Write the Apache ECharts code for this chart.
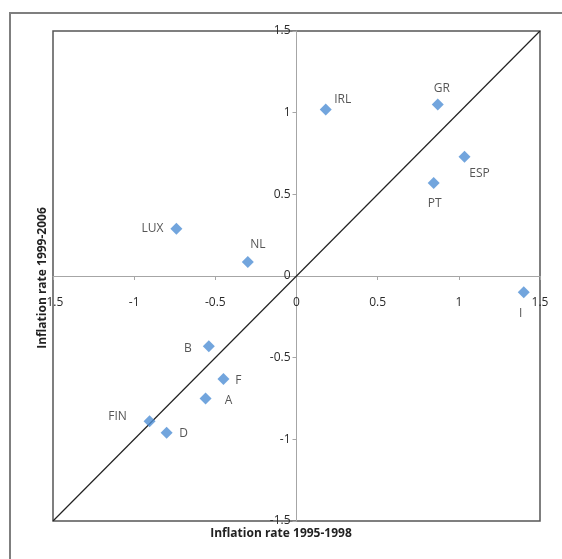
<!DOCTYPE html>
<html><head><meta charset="utf-8">
<script src="https://cdn.jsdelivr.net/npm/echarts@6/dist/echarts.min.js"></script>
<style>html,body{margin:0;padding:0;background:#fff}#c{width:562px;height:559px}</style>
</head><body><div id="c"></div>
<script>
var countries = ['IRL','GR','ESP','PT','LUX','NL','I','B','F','A','FIN','D'];
var infl9598 = [0.18, 0.87, 1.035, 0.845, -0.74, -0.30, 1.40, -0.54, -0.45, -0.56, -0.905, -0.80];
var infl9906 = [1.02, 1.05, 0.73, 0.57, 0.29, 0.086, -0.10, -0.43, -0.63, -0.75, -0.89, -0.96];
var diagX = [-1.5, 1.5];
var diagY = [-1.5, 1.5];
var ticks = [-1.5, -1, -0.5, 0, 0.5, 1, 1.5];

var labelOffsets = {
  IRL:[17,-10], GR:[4,-16], ESP:[15,17], PT:[1,21], LUX:[-24,0], NL:[10,-17],
  I:[-3,21], B:[-21,2], F:[15,2], A:[23,2], FIN:[-32,-5], D:[17,1]
};

var pts = countries.map(function(c,i){
  return {value:[infl9598[i], infl9906[i]], name:c,
    label:{show:true, formatter:c, position:'inside', offset:labelOffsets[c]}};
});

var gridL = 53, gridR = 22, gridT = 31, gridB = 38;
var W = 562, H = 559;
var halfW = (W - gridL - gridR) / 2, halfH = (H - gridT - gridB) / 2;

var chart = echarts.init(document.getElementById('c'));
function axis(extra){
  return Object.assign({
    type:'value', min:ticks[0], max:ticks[ticks.length-1], interval:0.5,
    splitLine:{show:false},
    axisLine:{onZero:false, lineStyle:{color:'#a6a6a6', width:1}},
    axisTick:{show:true, length:4, lineStyle:{color:'#a6a6a6'}},
  }, extra);
}
var lbl = {color:'#2b2b2b', fontSize:12, fontFamily:'Open Sans', showMinLabel:true, showMaxLabel:true,
  formatter:function(v){return String(Math.round(v*10)/10);}};
chart.setOption({
  animation:false,
  grid:{left:gridL, right:gridR, top:gridT, bottom:gridB, show:true, borderColor:'#555', borderWidth:1.5, containLabel:false},
  xAxis:axis({position:'bottom', offset:-halfH, axisLabel:Object.assign({}, lbl, {margin:21})}),
  yAxis:axis({position:'left', offset:-halfW, axisLabel:Object.assign({}, lbl, {margin:6})}),
  series:[
    {type:'line', data:diagX.map(function(x,i){return [x, diagY[i]];}), symbol:'none',
     lineStyle:{color:'#222', width:1.2}, z:1, silent:true},
    {type:'scatter', data:pts, symbol:'diamond', symbolSize:12,
     itemStyle:{color:'#4f8ed4'}, z:3,
     label:{color:'#2b2b2b', fontSize:12, fontFamily:'Open Sans'}}
  ],
  graphic:[
    {type:'polyline', shape:{points:[[10,559],[10,13],[562,13]]}, style:{stroke:'#7f7f7f', lineWidth:2, fill:null}},
    {type:'text', left:'center', top:528, style:{text:'Inflation rate 1995-1998', font:'bold 12px "Open Sans"', fill:'#222'}},
    {type:'text', x:43, y:278, rotation:Math.PI/2, style:{text:'Inflation rate 1999-2006', font:'bold 12px "Open Sans"', fill:'#222', align:'center', verticalAlign:'middle'}}
  ]
});
</script></body></html>
